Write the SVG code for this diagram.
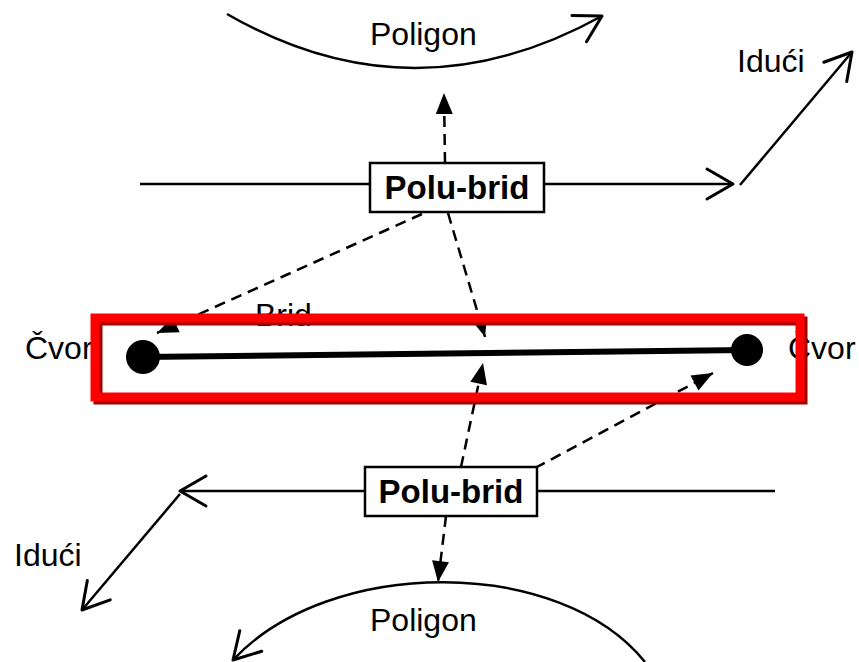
<svg xmlns="http://www.w3.org/2000/svg" width="859" height="662" viewBox="0 0 859 662">
<style>
  text { font-family: "Liberation Sans", Arial, sans-serif; font-size: 32px; fill: #000; }
  .bold { font-weight: bold; font-size: 33px; }
  .solid { fill: none; stroke: #000; stroke-width: 2.5; }
  .dash { fill: none; stroke: #000; stroke-width: 2.5; stroke-dasharray: 11 7; }
  .box { fill: #fff; stroke: #000; stroke-width: 2.5; }
</style>
<defs>
  <marker id="open" markerUnits="userSpaceOnUse" markerWidth="32" markerHeight="34" refX="27" refY="16" orient="auto" overflow="visible">
    <path d="M1,1 L27,16 L1,31" fill="none" stroke="#000" stroke-width="3" stroke-linecap="round" stroke-linejoin="round"/>
  </marker>
  <marker id="fill" markerUnits="userSpaceOnUse" markerWidth="22" markerHeight="18" refX="21" refY="8.5" orient="auto" overflow="visible">
    <path d="M0,0 L21,8.5 L0,17 Z" fill="#000"/>
  </marker>
</defs>

<g id="edge-brid">
  <text x="255" y="326">Brid</text>
</g>
<g id="cvor-left">
  <text x="25" y="359">Čvor</text>
</g>
<g id="cvor-right">
  <text x="788" y="359">Čvor</text>
</g>

<g id="connectors">
  <!-- top -->
  <path class="solid" d="M227,14 Q412,121 602,16" marker-end="url(#open)"/>
  <line class="solid" x1="140" y1="184" x2="733" y2="184" marker-end="url(#open)"/>
  <line class="solid" x1="740" y1="185" x2="852" y2="52" marker-end="url(#open)"/>
  <line class="dash" x1="445" y1="163" x2="444" y2="93" marker-end="url(#fill)"/>
  <line class="dash" x1="422" y1="214" x2="157" y2="333" marker-end="url(#fill)"/>
  <line class="dash" x1="448" y1="213" x2="485" y2="337" marker-end="url(#fill)"/>
  <!-- bottom -->
  <line class="solid" x1="775" y1="491" x2="180" y2="491" marker-end="url(#open)"/>
  <line class="solid" x1="180" y1="494" x2="82" y2="610" marker-end="url(#open)"/>
  <path class="solid" d="M645,662 C560,556 330,556 233,660" marker-end="url(#open)"/>
  <line class="dash" x1="461" y1="467" x2="483" y2="363" marker-end="url(#fill)"/>
  <line class="dash" x1="535" y1="468" x2="713" y2="373" marker-end="url(#fill)"/>
  <line class="dash" x1="446" y1="516" x2="438" y2="582" marker-end="url(#fill)"/>
</g>

<g id="brid-line">
  <line x1="143" y1="357" x2="747" y2="350" stroke="#000" stroke-width="6"/>
  <circle cx="143" cy="357" r="17" fill="#000"/>
  <circle cx="747" cy="350" r="16" fill="#000"/>
</g>

<g id="highlight">
  <rect x="98" y="321" width="705" height="79" fill="none" stroke="#a00000" stroke-width="9"/>
  <rect x="95" y="318" width="705" height="79" fill="none" stroke="#ff0000" stroke-width="9"/>
</g>

<g id="poligon-top">
  <text x="370" y="45">Poligon</text>
</g>
<g id="polubrid-top">
  <rect class="box" x="370" y="163" width="174" height="49"/>
  <text class="bold" x="457" y="199" text-anchor="middle">Polu-brid</text>
</g>
<g id="iduci-top">
  <text x="737" y="72">Idući</text>
</g>
<g id="polubrid-bottom">
  <rect class="box" x="365" y="467" width="172" height="49"/>
  <text class="bold" x="451" y="503" text-anchor="middle">Polu-brid</text>
</g>
<g id="iduci-bottom">
  <text x="14" y="566">Idući</text>
</g>
<g id="poligon-bottom">
  <text x="370" y="631">Poligon</text>
</g>
</svg>
